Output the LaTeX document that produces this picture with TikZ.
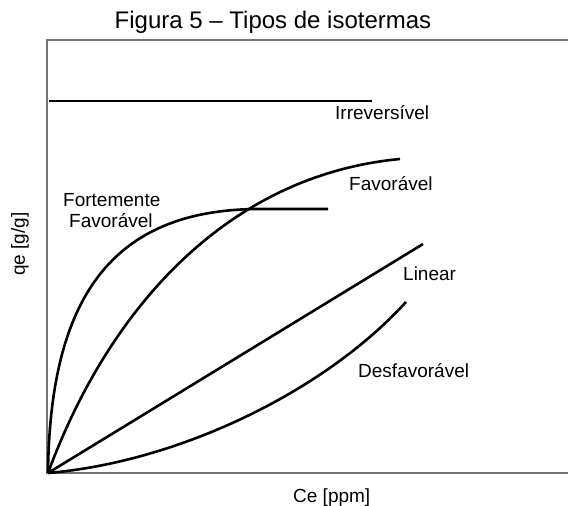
\documentclass[tikz,border=0pt]{standalone}
\usepackage{fontspec}
\setmainfont{Liberation Sans}
\begin{document}
\begin{tikzpicture}[x=1pt,y=-1pt,
  axisline/.style={draw=black!55, line width=2pt},
  curve/.style={draw=black, line width=2.6pt, line join=round},
  lbl/.style={inner sep=0pt, anchor=base west, font=\fontsize{19}{22}\selectfont},
  ttl/.style={inner sep=0pt, anchor=base, font=\fontsize{24}{28}\selectfont}]
\useasboundingbox (0,0) rectangle (568,506);
\fill[white] (0,0) rectangle (568,506);
% frame / axes
\coordinate (tl) at (46,40);
\coordinate (tr) at (568,40);
\coordinate (o) at (47,473);
\coordinate (br) at (568,473);
\draw[axisline] (tr) -- (tl);
\draw[axisline] (47,40) -- (o) -- (br);
% title and axis labels
\node[ttl] (title) at (273,28) {Figura 5 – Tipos de isotermas};
\node[lbl] (xlab) at (293,502) {Ce [ppm]};
\node[inner sep=0pt, rotate=90, font=\fontsize{19}{22}\selectfont] (ylab) at (20,244) {qe [g/g]};
% curves
\draw[curve] (49,101) -- (372,101);
\draw[curve] (48,473) .. controls (50,300) and (110,209) .. (260,209) -- (328,209);
\draw[curve] (48,473) .. controls (110,305) and (230,175) .. (400,159);
\draw[curve] (48,473) -- (423,244);
\draw[curve] (48,473) .. controls (178,462) and (324,392) .. (406,302);
% labels
\node[lbl] (irr) at (335,119) {Irreversível};
\node[lbl] (fav) at (349,190) {Favorável};
\node[lbl] (ff1) at (63,206) {Fortemente};
\node[lbl] (ff2) at (69,227) {Favorável};
\node[lbl] (lin) at (403,280) {Linear};
\node[lbl] (desf) at (358,377) {Desfavorável};
\end{tikzpicture}
\end{document}
